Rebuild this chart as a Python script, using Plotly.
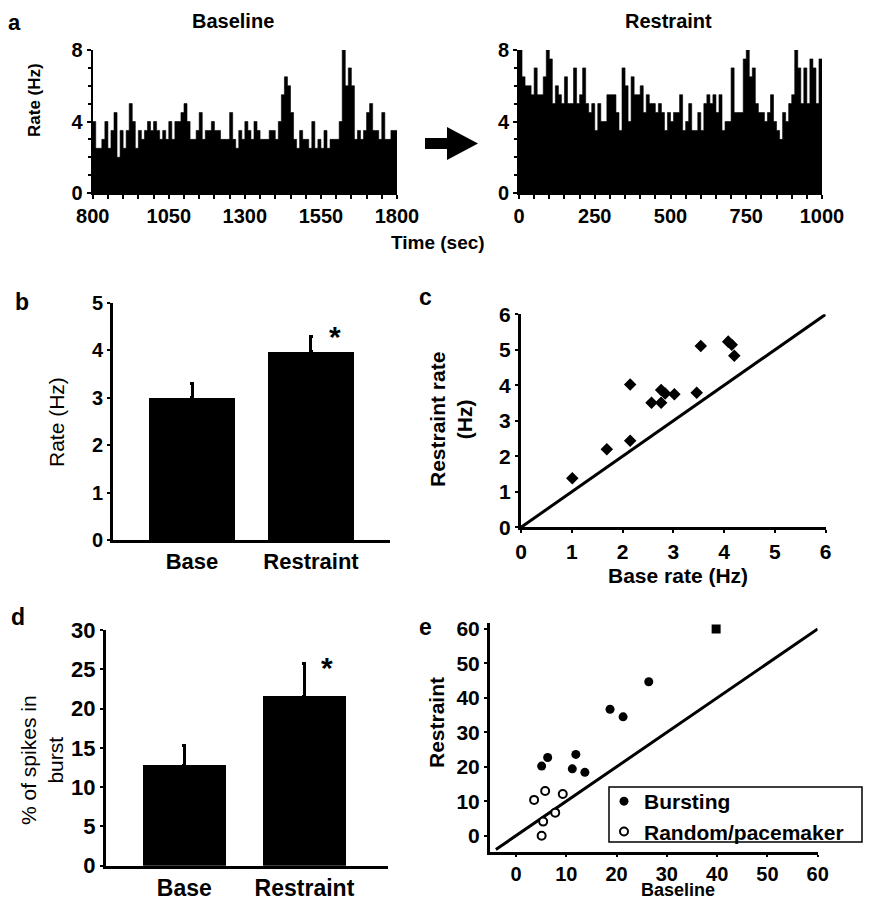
import plotly.graph_objects as go

# ---------------- data ----------------
baseline_start_s = 800
restraint_start_s = 0
bin_width_s = 10

baseline_rate = [4.0, 2.5, 2.5, 3.0, 4.0, 2.5, 3.5, 4.5, 2.0, 3.5,
                 2.5, 3.5, 5.0, 4.0, 2.5, 3.5, 3.0, 3.5, 4.0, 3.5,
                 4.0, 3.5, 3.0, 3.5, 3.0, 4.0, 3.0, 4.0, 4.0, 4.5,
                 5.0, 4.0, 3.0, 3.0, 3.5, 4.5, 3.0, 3.5, 3.5, 4.0,
                 3.5, 3.5, 3.0, 3.0, 3.0, 4.5, 3.0, 2.5, 3.5, 3.0,
                 4.0, 3.5, 3.0, 4.0, 3.5, 3.0, 3.0, 3.0, 3.5, 3.5,
                 3.0, 4.0, 5.5, 6.5, 6.0, 4.5, 3.0, 2.5, 3.5, 3.0,
                 3.0, 2.5, 4.0, 2.5, 3.0, 2.5, 3.5, 2.5, 3.0, 3.0,
                 3.0, 4.0, 8.0, 6.0, 7.0, 6.0, 3.0, 3.5, 3.0, 3.5,
                 4.5, 5.0, 3.5, 3.5, 3.0, 4.5, 3.0, 3.0, 3.5, 3.5]

restraint_rate = [8.0, 6.5, 6.0, 6.0, 5.5, 7.0, 5.5, 5.5, 6.5, 8.0,
                  7.5, 5.0, 6.0, 5.5, 5.0, 6.5, 5.0, 5.0, 7.0, 5.0,
                  5.5, 7.0, 5.0, 4.5, 5.0, 3.5, 5.0, 4.0, 4.0, 5.5,
                  5.5, 5.5, 4.5, 3.5, 7.0, 6.0, 4.0, 6.5, 5.5, 5.5,
                  6.0, 4.5, 5.5, 5.0, 5.0, 4.5, 5.0, 4.5, 3.5, 4.5,
                  4.0, 4.5, 4.5, 5.5, 3.5, 4.0, 5.0, 3.5, 3.5, 4.5,
                  3.5, 5.0, 5.5, 5.0, 5.5, 4.5, 5.5, 3.5, 4.0, 4.0,
                  7.0, 4.5, 4.5, 4.5, 7.5, 8.0, 6.5, 7.0, 5.0, 4.5,
                  4.5, 4.0, 4.5, 5.5, 4.0, 3.5, 3.0, 4.5, 4.0, 5.0,
                  5.5, 8.0, 7.0, 5.0, 7.0, 5.0, 7.5, 7.0, 5.0, 7.5]

bar_categories = ["Base", "Restraint"]
rate_mean = [3.0, 3.97]
rate_sem = [0.30, 0.31]

scatter_base_rate = [1.01, 1.69, 2.15, 2.15, 2.57, 2.76, 2.76, 2.84, 3.02, 3.46, 3.54, 4.08, 4.15, 4.20]
scatter_restraint_rate = [1.38, 2.20, 2.44, 4.02, 3.51, 3.51, 3.87, 3.77, 3.75, 3.79, 5.11, 5.23, 5.14, 4.83]
identity_c = [0, 6]

burst_mean = [12.8, 21.6]
burst_sem = [2.5, 4.15]

bursting_baseline = [5.1, 6.3, 11.2, 11.9, 13.7, 18.7, 21.3, 26.4, 39.8]
bursting_restraint = [20.2, 22.7, 19.4, 23.6, 18.4, 36.7, 34.5, 44.7, 60.0]
random_baseline = [3.6, 5.8, 9.3, 7.8, 5.4, 5.1]
random_restraint = [10.4, 13.0, 12.1, 6.7, 4.1, 0.0]
identity_e = [-4, 60]

# ---------------- helpers ----------------
OFF = 8                              # page body margin of the browser
W, H = 872 - 2 * OFF, 909 - 2 * OFF  # figure fits the window without scrollbars
FONT = "Liberation Sans, Arial, sans-serif"


def px(x):
    """window pixel x -> paper fraction"""
    return (x - OFF) / W


def py(y):
    """window pixel y -> paper fraction"""
    return 1 - (y - OFF) / H


def step_xy(start, width, vals):
    xs = [start + width * i for i in range(len(vals))] + [start + width * len(vals)]
    ys = list(vals) + [vals[-1]]
    return xs, ys


fig = go.Figure()

# Panel a: histograms
bx, by = step_xy(baseline_start_s, bin_width_s, baseline_rate)
fig.add_trace(go.Scatter(x=bx, y=by, mode="lines", line=dict(shape="hv", color="black", width=0.6),
                         fill="tozeroy", fillcolor="black", showlegend=False, xaxis="x", yaxis="y"))
rx, ry = step_xy(restraint_start_s, bin_width_s, restraint_rate)
fig.add_trace(go.Scatter(x=rx, y=ry, mode="lines", line=dict(shape="hv", color="black", width=0.6),
                         fill="tozeroy", fillcolor="black", showlegend=False, xaxis="x2", yaxis="y2"))

# Panel b
fig.add_trace(go.Bar(x=bar_categories, y=rate_mean, width=0.723, marker=dict(color="black", line=dict(width=0)),
                     error_y=dict(type="data", array=rate_sem, arrayminus=[0, 0], symmetric=False,
                                  color="black", thickness=3, width=2),
                     showlegend=False, xaxis="x3", yaxis="y3"))

# Panel c
fig.add_trace(go.Scatter(x=identity_c, y=identity_c, mode="lines", line=dict(color="black", width=3),
                         showlegend=False, xaxis="x4", yaxis="y4"))
fig.add_trace(go.Scatter(x=scatter_base_rate, y=scatter_restraint_rate, mode="markers",
                         marker=dict(symbol="diamond", size=8, color="black", line=dict(color="black", width=1.5)),
                         showlegend=False, xaxis="x4", yaxis="y4"))

# Panel d
fig.add_trace(go.Bar(x=bar_categories, y=burst_mean, width=0.693, marker=dict(color="black", line=dict(width=0)),
                     error_y=dict(type="data", array=burst_sem, arrayminus=[0, 0], symmetric=False,
                                  color="black", thickness=3, width=2),
                     showlegend=False, xaxis="x5", yaxis="y5"))

# Panel e
fig.add_trace(go.Scatter(x=identity_e, y=identity_e, mode="lines", line=dict(color="black", width=3),
                         showlegend=False, xaxis="x6", yaxis="y6"))
fig.add_trace(go.Scatter(x=bursting_baseline, y=bursting_restraint, mode="markers", name="Bursting",
                         marker=dict(symbol=["circle"] * 8 + ["square"], size=9, color="black"),
                         xaxis="x6", yaxis="y6"))
fig.add_trace(go.Scatter(x=random_baseline, y=random_restraint, mode="markers", name="Random/pacemaker",
                         marker=dict(symbol="circle", size=8, color="white", line=dict(color="black", width=2)),
                         xaxis="x6", yaxis="y6"))


def axis(domain, rng, lw=2, tickfont_size=20, **kw):
    d = dict(domain=domain, range=rng, showline=True, linecolor="black", linewidth=lw,
             showgrid=False, zeroline=False, ticks="outside", ticklen=4, tickwidth=2, tickcolor="black",
             tickfont=dict(family=FONT, size=tickfont_size, color="black", weight=700), fixedrange=True,
             automargin=False)
    d.update(kw)
    return d


minor_x = dict(dtick=50, ticks="outside", ticklen=4, tickwidth=1.5, tickcolor="black", showgrid=False)
minor_y1 = dict(dtick=1, ticks="outside", ticklen=3, tickwidth=1.5, tickcolor="black", showgrid=False)

layout = dict(
    width=W, height=H, autosize=False,
    margin=dict(l=0, r=0, t=0, b=0, pad=0, autoexpand=False),
    paper_bgcolor="white", plot_bgcolor="white",
    font=dict(family=FONT, color="black"),
    bargap=0,
    xaxis=axis([px(92.7), px(397)], [800, 1800], anchor="y", tickvals=[800, 1050, 1300, 1550, 1800], minor=minor_x),
    yaxis=axis([py(193), py(50)], [0, 8], anchor="x", tickvals=[0, 4, 8], minor=minor_y1),
    xaxis2=axis([px(519), px(822)], [0, 1000], anchor="y2", tickvals=[0, 250, 500, 750, 1000], minor=minor_x),
    yaxis2=axis([py(193), py(50)], [0, 8], anchor="x2", tickvals=[0, 4, 8], minor=minor_y1),
    xaxis3=axis([px(113), px(390)], [-0.664, 1.664], lw=3, anchor="y3", type="category", ticks="",
                tickfont=dict(family=FONT, size=22, color="black", weight=700)),
    yaxis3=axis([py(540), py(302.7)], [0, 5], lw=3, anchor="x3", tickvals=[0, 1, 2, 3, 4, 5], ticklen=3),
    xaxis4=axis([px(521), px(825.7)], [0, 6], lw=3, anchor="y4", tickvals=[0, 1, 2, 3, 4, 5, 6], ticklen=3,
                tickfont=dict(family=FONT, size=21, color="black", weight=700)),
    yaxis4=axis([py(527.3), py(314.3)], [0, 6], lw=3, anchor="x4", tickvals=[0, 1, 2, 3, 4, 5, 6], ticklen=3,
                tickfont=dict(family=FONT, size=21, color="black", weight=700)),
    xaxis5=axis([px(106), px(388)], [-0.651, 1.695], lw=3, anchor="y5", type="category", ticks="",
                tickfont=dict(family=FONT, size=23, color="black", weight=700)),
    yaxis5=axis([py(865.7), py(630)], [0, 30], lw=3, anchor="x5", tickvals=[0, 5, 10, 15, 20, 25, 30], ticklen=3,
                tickfont=dict(family=FONT, size=22, color="black", weight=700)),
    xaxis6=axis([px(490), px(817.7)], [-5.17, 60], lw=3, anchor="y6", tickvals=[0, 10, 20, 30, 40, 50, 60],
                ticklen=2, tickfont=dict(family=FONT, size=20, color="black", weight=700)),
    yaxis6=axis([py(851.7), py(623.3)], [-4.64, 61.65], lw=3, anchor="x6", tickvals=[0, 10, 20, 30, 40, 50, 60],
                ticklen=3, tickfont=dict(family=FONT, size=21, color="black", weight=700)),
    legend=dict(x=px(604), y=py(781), xanchor="left", yanchor="top", borderwidth=0,
                bgcolor="rgba(0,0,0,0)", font=dict(family=FONT, size=21, color="black", weight=700),
                itemwidth=30, tracegroupgap=0),
)
fig.update_layout(**layout)

# legend frame
fig.add_shape(type="rect", x0=px(609), x1=px(862), y0=py(842), y1=py(787), xref="paper", yref="paper",
              line=dict(color="black", width=1.5), fillcolor="white", layer="below")


def ann(text, x, y, size=21, bold=True, angle=0, xanchor="center", yanchor="middle"):
    fig.add_annotation(text=text, x=px(x), y=py(y), xref="paper", yref="paper", showarrow=False,
                       textangle=angle, xanchor=xanchor, yanchor=yanchor,
                       font=dict(family=FONT, size=size, color="black", weight=700 if bold else 400))


# panel letters
ann("a", 15, 22, size=22)
ann("b", 22, 302, size=23)
ann("c", 425, 297, size=23)
ann("d", 18, 617, size=23)
ann("e", 425, 627, size=23)

# panel a titles/labels
ann("Baseline", 233, 21, size=20)
ann("Restraint", 668, 21, size=20)
ann("Rate (Hz)", 34, 100, size=17, angle=-90)
ann("Time (sec)", 438, 243, size=19)

# panel b
ann("Rate (Hz)", 56, 422, size=21, bold=False, angle=-90)
ann("*", 335, 336, size=30)

# panel c
ann("Restraint rate<br>(Hz)", 451, 420, size=21, angle=-90)
ann("Base rate (Hz)", 678, 575, size=21)

# panel d
ann("% of spikes in<br>burst", 42, 760, size=21, bold=False, angle=-90)
ann("*", 327, 667, size=30)

# panel e
ann("Restraint", 436, 723, size=21, angle=-90)
ann("Baseline", 678, 890, size=18)

# arrow between histograms
pts = [(425, 138), (447, 138), (447, 127), (478, 143.5), (447, 160), (447, 149), (425, 149)]
path = "M " + " L ".join(f"{px(a):.5f},{py(b):.5f}" for a, b in pts) + " Z"
fig.add_shape(type="path", path=path, xref="paper", yref="paper", fillcolor="black", line=dict(width=0))

fig.write_html("out.html")
